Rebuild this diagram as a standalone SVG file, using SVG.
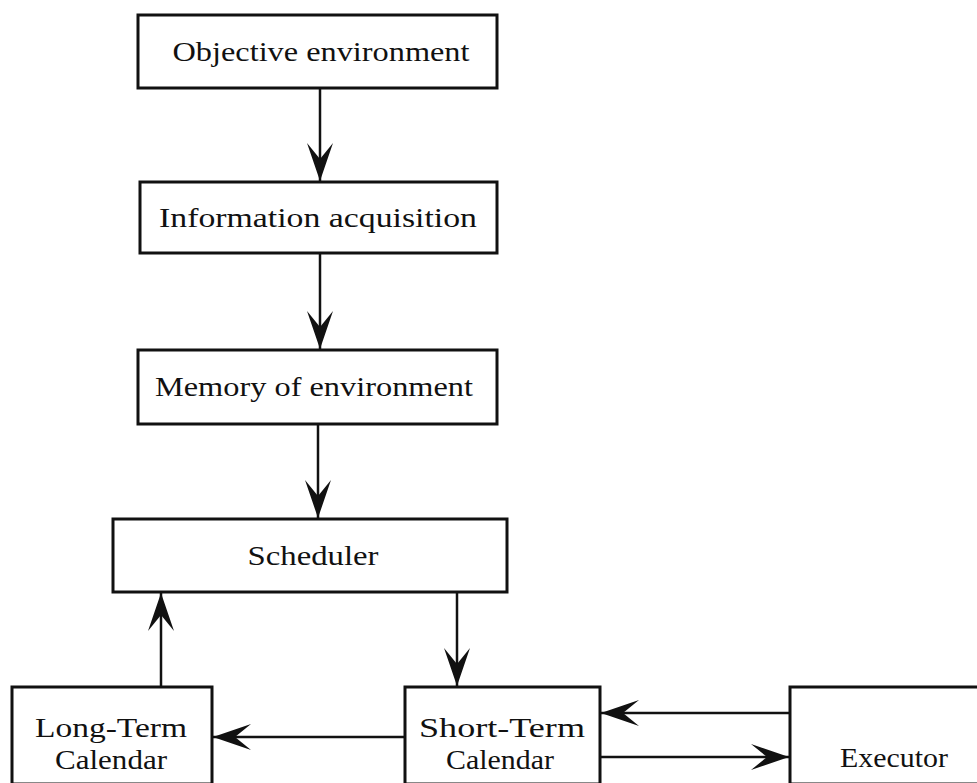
<svg xmlns="http://www.w3.org/2000/svg" width="977" height="783" viewBox="0 0 977 783">
<style>
.box{fill:#fff;stroke:#111;stroke-width:3}
.lbl{font-family:"Liberation Serif","Times New Roman",serif;font-size:28px;fill:#111;text-anchor:middle}
.con{stroke:#111;stroke-width:2.5;fill:none}
</style>
<defs>
<marker id="ah" markerUnits="userSpaceOnUse" markerWidth="60" markerHeight="60" viewBox="-40 -20 60 40" refX="0" refY="0" orient="auto" overflow="visible">
<path d="M0,0 L-38,-13 L-22,0 L-38,13 Z" fill="#111"/>
</marker>
</defs>
<rect width="977" height="783" fill="#fff"/>
<g id="connectors">
<line class="con" x1="320" y1="88" x2="320" y2="181" marker-end="url(#ah)"/>
<line class="con" x1="320" y1="253" x2="320" y2="349" marker-end="url(#ah)"/>
<line class="con" x1="318" y1="424" x2="318" y2="518" marker-end="url(#ah)"/>
<line class="con" x1="457" y1="592" x2="457" y2="686" marker-end="url(#ah)"/>
<line class="con" x1="161" y1="687" x2="161" y2="593" marker-end="url(#ah)"/>
<line class="con" x1="405" y1="737" x2="213" y2="737" marker-end="url(#ah)"/>
<line class="con" x1="790" y1="713" x2="601" y2="713" marker-end="url(#ah)"/>
<line class="con" x1="600" y1="757" x2="789" y2="757" marker-end="url(#ah)"/>
</g>
<g id="objective">
<rect class="box" x="138" y="15" width="359" height="73"/>
<text class="lbl" x="321" y="61" textLength="297" lengthAdjust="spacingAndGlyphs">Objective environment</text>
</g>
<g id="information">
<rect class="box" x="140" y="182" width="357" height="71"/>
<text class="lbl" x="318" y="227" textLength="318" lengthAdjust="spacingAndGlyphs">Information acquisition</text>
</g>
<g id="memory">
<rect class="box" x="138" y="350" width="359" height="74"/>
<text class="lbl" x="314" y="396" textLength="318" lengthAdjust="spacingAndGlyphs">Memory of environment</text>
</g>
<g id="scheduler">
<rect class="box" x="113" y="519" width="394" height="73"/>
<text class="lbl" x="313" y="565" textLength="131" lengthAdjust="spacingAndGlyphs">Scheduler</text>
</g>
<g id="longterm">
<rect class="box" x="12" y="687" width="200" height="97"/>
<text class="lbl" x="111" y="737" textLength="152" lengthAdjust="spacingAndGlyphs">Long-Term</text>
<text class="lbl" x="111" y="769" textLength="112" lengthAdjust="spacingAndGlyphs">Calendar</text>
</g>
<g id="shortterm">
<rect class="box" x="405" y="687" width="195" height="97"/>
<text class="lbl" x="502" y="737" textLength="166" lengthAdjust="spacingAndGlyphs">Short-Term</text>
<text class="lbl" x="500" y="769" textLength="108" lengthAdjust="spacingAndGlyphs">Calendar</text>
</g>
<g id="executor">
<rect class="box" x="790" y="687" width="200" height="97"/>
<text class="lbl" x="894" y="767" textLength="108" lengthAdjust="spacingAndGlyphs">Executor</text>
</g>
</svg>
